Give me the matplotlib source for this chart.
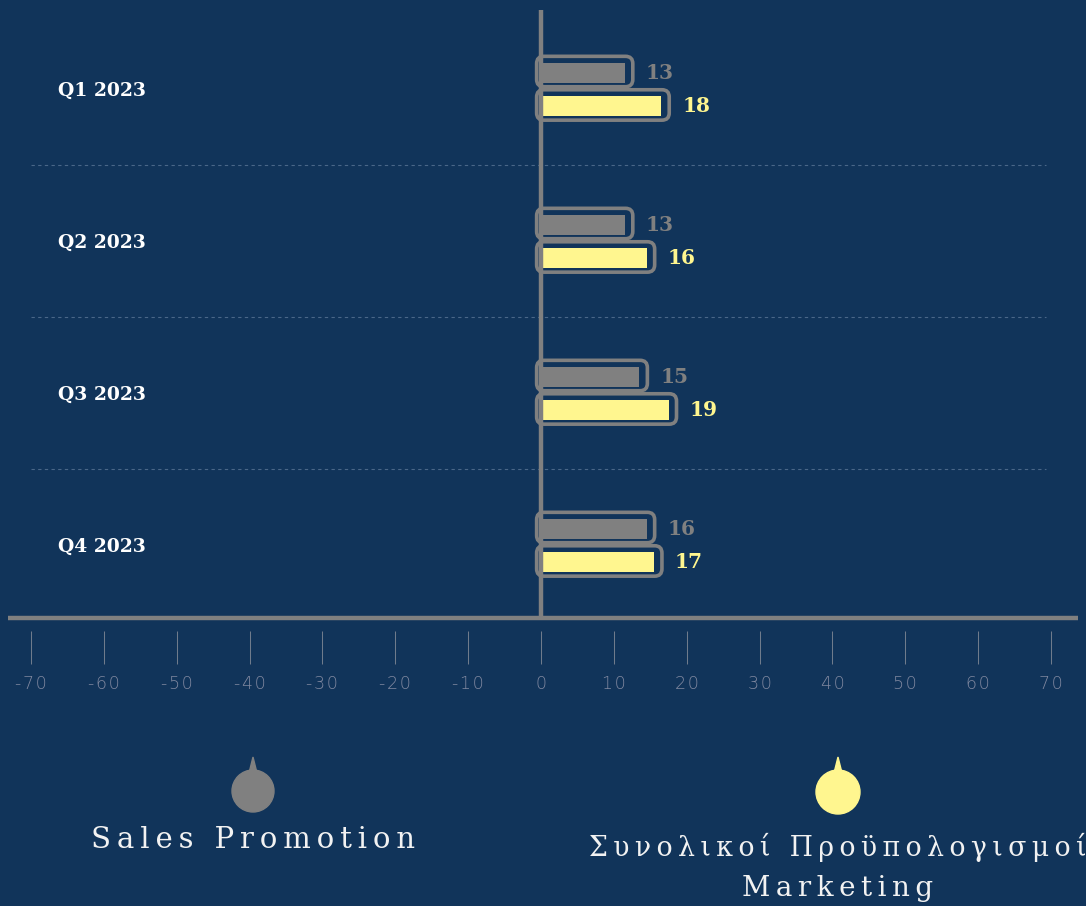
import matplotlib
matplotlib.use("Agg")
import matplotlib.pyplot as plt
from matplotlib.patches import FancyBboxPatch, Ellipse, Polygon

# data
quarters = ["Q1 2023", "Q2 2023", "Q3 2023", "Q4 2023"]
sales_promotion = [13, 13, 15, 16]
marketing_budget = [18, 16, 19, 17]
series_names = ["Sales Promotion", "Συνολικοί Προϋπολογισμοί", "Marketing"]
x_ticks = list(range(-70, 71, 10))

BG = "#11345a"
GRAY = "#808080"
YELLOW = "#fff68f"
TICK = "#6f7b8c"

W, H = 1086, 906


def spaced(s, sep="\u2009"):
    return sep.join(s)


fig = plt.figure(figsize=(W / 100, H / 100), dpi=100, facecolor=BG)
ax = fig.add_axes([31 / W, 285 / H, 1020 / W, 608 / H])
ax.set_facecolor(BG)
ax.set_xlim(-70, 70)
ax.set_ylim(3.5, -0.5)

# aspect so rounded corners look round in pixels
px_x = 1020 / 140
px_y = 608 / 4
asp = px_x / px_y

series = [
    (sales_promotion, GRAY, -0.115, -0.105),
    (marketing_budget, YELLOW, 0.105, 0.112),
]

for values, color, off_box, off_bar in series:
    for i, v in enumerate(values):
        yc = i + off_box
        h = 0.2
        box = FancyBboxPatch(
            (-0.6, yc - h / 2), v + 0.2, h,
            boxstyle="round,pad=0,rounding_size=1.0",
            mutation_aspect=asp,
            facecolor="none", edgecolor=GRAY, linewidth=2.6, zorder=2,
        )
        ax.add_patch(box)
        ax.barh(i + off_bar, v - 1.5, left=0, height=0.135, color=color, zorder=3)
        ax.text(v + 1.4, i + off_bar, str(v), ha="left", va="center",
                color=color, fontsize=14.5, fontweight="bold",
                family="DejaVu Serif", zorder=4)

# separators between quarters
ax.hlines([0.5, 1.5, 2.5], -70, 69.3, colors="#4a6788", linestyles=(0, (3, 3)),
          linewidth=0.8, zorder=1)

# zero line and baseline
ax.plot([0, 0], [-0.52, 3.48], color=GRAY, linewidth=3.2, zorder=5,
        clip_on=False, solid_capstyle="butt")
ax.plot([-73.2, 73.7], [3.48, 3.48], color=GRAY, linewidth=3.2, zorder=5,
        clip_on=False, solid_capstyle="butt")

# quarter labels
for i, q in enumerate(quarters):
    ax.text(27 / 1020, i + 0.01, q, transform=ax.get_yaxis_transform(),
            ha="left", va="center", color="white", fontsize=13.5,
            fontweight="bold", family="DejaVu Serif")

# x axis ticks
for side in ["top", "right", "left"]:
    ax.spines[side].set_visible(False)
ax.spines["bottom"].set_position(("outward", 7.2))
ax.spines["bottom"].set_color("none")
ax.set_yticks([])
ax.set_xticks(x_ticks)
ax.set_xticklabels([spaced(str(t), "\u200a") for t in x_ticks],
                   family="DejaVu Sans", fontweight="light")
ax.tick_params(axis="x", length=23.8, width=0.75, color=TICK,
               labelcolor="#8088a0", pad=8, labelsize=12.5)

# legend
legend_items = [(253, 791, 21, GRAY), (838, 792, 22, YELLOW)]
for cx, cy, r, col in legend_items:
    fig.add_artist(Ellipse((cx / W, 1 - cy / H), 2 * r / W, 2 * r / H,
                           transform=fig.transFigure, color=col))
    fig.add_artist(Polygon([((cx - 4) / W, 1 - (cy - r + 3) / H),
                            (cx / W, 1 - (cy - r - 13) / H),
                            ((cx + 4) / W, 1 - (cy - r + 3) / H)],
                           closed=True, transform=fig.transFigure, color=col))

fig.text(253 / W, 1 - 840 / H, spaced(series_names[0]), ha="center", va="center",
         color="#f2f2f2", fontsize=21, family="DejaVu Serif")
fig.text(838 / W, 1 - 847 / H, spaced(series_names[1]), ha="center", va="center",
         color="#f2f2f2", fontsize=19.3, family="DejaVu Serif")
fig.text(838 / W, 1 - 889 / H, spaced(series_names[2]), ha="center", va="center",
         color="#f2f2f2", fontsize=20, family="DejaVu Serif")

fig.savefig("out.png", dpi=100, facecolor=BG)
